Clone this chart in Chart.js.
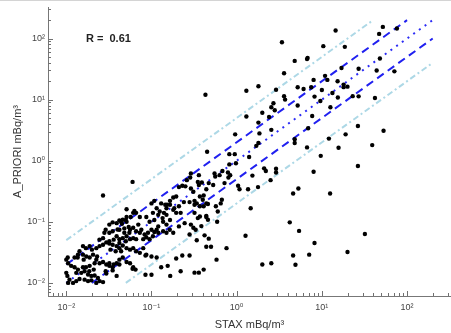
<!DOCTYPE html>
<html>
<head>
<meta charset="utf-8">
<script src="https://cdn.jsdelivr.net/npm/chart.js@4.4.0/dist/chart.umd.min.js"></script>
<style>
  html, body { margin: 0; padding: 0; background: #fff; overflow: hidden; }
</style>
</head>
<body>
<canvas id="chartStax" width="451" height="333"></canvas>
<script>
// STAX measurement (x) against a-priori estimate (y), both mBq/m3
const staxValues = [
  52, 47, 76, 14.5, 3.4, 10.4, 18.6, 4.8, 6.8, 6.7,
  3.6, 27, 48, 44, 71, 1.8, 2.9, 5.2, 6.1, 7.5,
  8.0, 10.9, 11.6, 15.3, 10, 18, 18, 20, 13.3, 15.4,
  27, 23, 3.6, 3.7, 2.7, 2.55, 5.2, 9.6, 12.6, 2.0,
  2.8, 1.8, 2.4, 7.7, 42, 1.85, 2.55, 6.9, 26.5, 1.7,
  1.8, 4.8, 4.8, 6.7, 12.1, 19, 53, 39, 15.7, 0.43,
  1.3, 1.3, 0.96, 1.4, 0.82, 0.95, 0.45, 17, 8.2,
  9.7, 26.5, 8.0, 2.1, 2.2, 2.9, 2.9, 2.5, 0.82, 0.98,
  0.79, 0.84, 0.8, 0.72, 1.04, 1.08, 1.36, 1.78, 1.46, 5.3,
  4.6, 12.5, 1.53, 4.2, 5.4, 32, 8.2, 20, 4.6, 7.1,
  2.0, 2.55, 4.9, 1.27, 0.76,
  0.29, 0.285, 0.36, 0.55, 0.56, 0.68, 0.63, 0.26, 0.35, 0.39,
  0.47, 0.53, 0.36, 0.25, 0.21, 0.23, 0.44, 0.29, 0.31, 0.41,
  0.37, 0.32, 0.34, 0.4, 0.44, 0.24, 0.28, 0.195, 0.18, 0.165,
  0.145, 0.13, 0.108, 0.1, 0.15, 0.165, 0.185, 0.21, 0.115, 0.125,
  0.14, 0.15, 0.18, 0.195, 0.22, 0.32, 0.37, 0.41, 0.46, 0.57,
  0.6, 0.65, 0.67, 0.32, 0.37, 0.44, 0.59, 0.33, 0.28, 0.42,
  0.47, 0.34, 0.44, 0.5, 0.58, 0.41, 0.32, 0.36, 0.28, 0.23,
  0.195, 0.22, 0.166, 0.155, 0.13, 0.115, 0.085, 0.085, 0.1, 0.065, 0.06,
  0.087, 0.095, 0.108, 0.137, 0.12, 0.137, 0.15, 0.164, 0.18, 0.21,
  0.245, 0.29, 0.31, 0.35, 0.385, 0.44, 0.46, 0.115, 0.104, 0.1,
  0.091, 0.083, 0.076, 0.073, 0.066, 0.061, 0.056, 0.048, 0.042, 0.095,
  0.087, 0.08, 0.066, 0.061, 0.056, 0.051, 0.046, 0.042, 0.039, 0.035,
  0.032, 0.029, 0.028,
  0.051, 0.061, 0.063, 0.066, 0.073, 0.057, 0.051, 0.046, 0.042, 0.039,
  0.035, 0.032, 0.06, 0.027, 0.104, 0.12,
  0.017, 0.0188, 0.02, 0.0225, 0.0246, 0.027, 0.0295, 0.032, 0.035, 0.039,
  0.042, 0.046, 0.051, 0.056, 0.061, 0.066, 0.073, 0.08, 0.087, 0.1,
  0.0143, 0.0157, 0.0172, 0.0188, 0.0206, 0.0225, 0.0246, 0.027, 0.0295, 0.032,
  0.035, 0.039, 0.042, 0.046, 0.051, 0.056, 0.061, 0.01, 0.0105, 0.0114,
  0.0125, 0.0137, 0.015, 0.0164, 0.018, 0.0197, 0.0215, 0.0235, 0.0246, 0.027,
  0.01, 0.0103, 0.0109, 0.012, 0.0131, 0.0143, 0.0164, 0.018, 0.0197, 0.0225,
  0.0295, 0.035, 0.039, 0.0105, 0.0131, 0.0157, 0.0188, 0.0215, 0.0157, 0.0137, 0.0125,
  0.05, 0.045, 0.054, 0.04, 0.048, 0.055, 0.0245, 0.027, 0.032, 0.036,
  0.042, 0.05, 0.033, 0.038, 0.044, 0.0136, 0.016, 0.023, 0.032, 0.036,
  0.042, 0.017, 0.0186, 0.021, 0.029, 0.0104, 0.152, 0.07, 0.135, 0.165,
  0.12, 0.15, 0.108, 0.044, 0.051
];
const aprioriValues = [
  155, 119, 146, 135, 87, 75, 73, 43, 48, 46,
  27, 32, 47, 30, 29, 16.5, 14.5, 15.9, 14.9, 15.9,
  21, 24.5, 21, 20, 14.4, 17.6, 16, 16.3, 12.8, 10.8,
  11.3, 11.4, 11.4, 10, 8.7, 7.5, 8.0, 9.5, 7.5, 6.1,
  6.7, 4.2, 5.2, 5.4, 10.6, 2.8, 3.2, 3.4, 3.7, 1.75,
  1.95, 2.25, 1.95, 1.65, 2.3, 2.7, 3.1, 1.8, 1.63, 12,
  14, 5.3, 2.7, 1.15, 1.28, 1.28, 1.4, 33, 11.2,
  1.2, 0.82, 0.66, 0.75, 0.68, 0.74, 0.64, 0.48, 0.87, 0.91,
  0.64, 0.58, 0.53, 0.43, 0.39, 0.34, 0.34, 0.37, 0.167, 0.35,
  0.29, 0.29, 0.57, 0.098, 0.071, 0.063, 0.045, 0.032, 0.028, 0.029,
  0.02, 0.021, 0.0198, 0.059, 0.037,
  0.62, 0.53, 0.58, 0.62, 0.55, 0.68, 0.58, 0.48, 0.45, 0.44,
  0.43, 0.40, 0.40, 0.38, 0.37, 0.39, 0.34, 0.35, 0.31, 0.27,
  0.26, 0.22, 0.2, 0.23, 0.2, 0.21, 0.21, 0.26, 0.25, 0.22,
  0.19, 0.2, 0.22, 0.2, 0.167, 0.19, 0.167, 0.18, 0.167, 0.147,
  0.14, 0.13, 0.157, 0.14, 0.14, 0.19, 0.18, 0.18, 0.195, 0.18,
  0.147, 0.2, 0.23, 0.14, 0.122, 0.125, 0.1, 0.074, 0.062, 0.06,
  0.053, 0.05, 0.039, 0.039, 0.024, 0.0165, 0.0147, 0.0147, 0.028, 0.028,
  0.025, 0.0155, 0.013, 0.019, 0.018, 0.026, 0.028, 0.0136, 0.0136, 0.0165, 0.017,
  0.12, 0.1, 0.107, 0.1, 0.066, 0.07, 0.066, 0.074, 0.066, 0.084,
  0.095, 0.09, 0.08, 0.115, 0.085, 0.12, 0.108, 0.074, 0.058, 0.074,
  0.066, 0.062, 0.074, 0.066, 0.07, 0.08, 0.074, 0.078, 0.074, 0.052,
  0.056, 0.052, 0.052, 0.054, 0.052, 0.058, 0.054, 0.052, 0.058, 0.07,
  0.066, 0.074, 0.066,
  0.16, 0.14, 0.15, 0.14, 0.12, 0.12, 0.12, 0.108, 0.105, 0.095,
  0.098, 0.09, 0.45, 0.27, 0.14, 0.13,
  0.037, 0.04, 0.035, 0.037, 0.04, 0.042, 0.046, 0.044, 0.042, 0.04,
  0.037, 0.041, 0.037, 0.035, 0.037, 0.033, 0.031, 0.037, 0.029, 0.027,
  0.033, 0.029, 0.027, 0.026, 0.029, 0.024, 0.021, 0.022, 0.02, 0.019,
  0.018, 0.021, 0.024, 0.026, 0.022, 0.021, 0.018, 0.024, 0.021, 0.019,
  0.018, 0.0165, 0.0146, 0.0155, 0.0137, 0.013, 0.0132, 0.012, 0.0107, 0.0103,
  0.0146, 0.013, 0.0113, 0.01, 0.0107, 0.0116, 0.0113, 0.0107, 0.011, 0.01,
  0.0142, 0.016, 0.013, 0.01, 0.0146, 0.018, 0.019, 0.021, 0.04, 0.029, 0.026,
  0.107, 0.093, 0.082, 0.075, 0.066, 0.066, 0.051, 0.054, 0.048, 0.051,
  0.045, 0.048, 0.035, 0.033, 0.033, 0.026, 0.024, 0.027, 0.021, 0.02,
  0.02, 0.018, 0.0155, 0.0165, 0.0155, 0.026, 0.19, 0.09, 0.115, 0.107,
  0.084, 0.09, 0.068, 0.1, 0.1
];

// reference lines (start / end in data units)
const lineOneX = [0.01, 200],   lineOneY = [0.01, 200];
const lineTwoUpX = [0.01, 100], lineTwoUpY = [0.02, 200];
const lineTwoLowX = [0.02, 200], lineTwoLowY = [0.01, 100];
const lineFiveUpX = [0.01, 40], lineFiveUpY = [0.05, 200];
const lineFiveLowX = [0.05, 200], lineFiveLowY = [0.01, 40];

const decadeValues = [0.01, 0.1, 1, 10, 100];
const decadeLabels = ['10\u207B\u00B2', '10\u207B\u00B9', '10\u2070', '10\u00B9', '10\u00B2'];
const rLabel = 'R =  0.61';

const fontFamily = '"Liberation Sans", Arial, "DejaVu Sans", sans-serif';
const axisMin = 0.0061, axisMax = 328;

function toPoints(xs, ys) {
    return xs.map((x, i) => ({ x: x, y: ys[i] }));
}

function decadeLabel(value) {
    const i = decadeValues.findIndex(d => Math.abs(Math.log10(value) - Math.log10(d)) < 1e-6);
    return i >= 0 ? decadeLabels[i] : '';
}

function refLine(xs, ys, color, dash) {
    return {
        data: toPoints(xs, ys),
        showLine: true,
        borderColor: color,
        borderWidth: 2,
        borderDash: dash,
        pointRadius: 0,
        pointHoverRadius: 0,
        fill: false
    };
}

// tick marks drawn inward + the correlation text
const innerTicks = {
    id: 'innerTicks',
    afterDraw(chart) {
        const ctx = chart.ctx;
        const xs = chart.scales.x;
        const ys = chart.scales.y;
        const area = chart.chartArea;
        ctx.save();
        ctx.strokeStyle = '#707070';
        ctx.lineWidth = 1;
        ctx.beginPath();
        for (let d = -3; d <= 3; d++) {
            for (let m = 1; m <= 9; m++) {
                const v = m * Math.pow(10, d);
                const len = m === 1 ? 5 : 3;
                if (v >= xs.min && v <= xs.max) {
                    const px = Math.round(xs.getPixelForValue(v)) + 0.5;
                    ctx.moveTo(px, area.bottom);
                    ctx.lineTo(px, area.bottom - len);
                }
                if (v >= ys.min && v <= ys.max) {
                    const py = Math.round(ys.getPixelForValue(v)) + 0.5;
                    ctx.moveTo(area.left, py);
                    ctx.lineTo(area.left + len, py);
                }
            }
        }
        ctx.stroke();

        ctx.fillStyle = '#d4d4d4';
        ctx.fillRect(0, 0, chart.width, 1);

        ctx.fillStyle = '#222';
        ctx.font = 'bold 11px ' + fontFamily;
        ctx.textAlign = 'left';
        ctx.textBaseline = 'middle';
        ctx.fillText(rLabel, xs.getPixelForValue(0.017), ys.getPixelForValue(100));
        ctx.restore();
    }
};

const ctx = document.getElementById('chartStax').getContext('2d');

const scatterSet = {
    data: toPoints(staxValues, aprioriValues),
    pointRadius: 2.2,
    pointHoverRadius: 2.2,
    pointBackgroundColor: '#000',
    pointBorderWidth: 0,
    showLine: false
};

const axisBase = {
    type: 'logarithmic',
    min: axisMin,
    max: axisMax,
    grid: { display: false, drawTicks: false },
    border: { display: true, color: '#777', width: 1 },
    ticks: {
        autoSkip: false,
        maxRotation: 0,
        color: '#444',
        font: { size: 9, family: fontFamily },
        callback: decadeLabel
    }
};

new Chart(ctx, {
    type: 'scatter',
    data: {
        datasets: [
            scatterSet,
            refLine(lineOneX, lineOneY, '#2b2bf5', [2, 5]),
            refLine(lineTwoUpX, lineTwoUpY, '#2020f0', [8, 5]),
            refLine(lineTwoLowX, lineTwoLowY, '#2020f0', [8, 5]),
            refLine(lineFiveUpX, lineFiveUpY, '#add8e6', [6, 3, 2, 3]),
            refLine(lineFiveLowX, lineFiveLowY, '#add8e6', [6, 3, 2, 3])
        ]
    },
    options: {
        responsive: false,
        animation: false,
        devicePixelRatio: 1,
        layout: { autoPadding: false, padding: { top: 7, right: 0, bottom: 0, left: 0 } },
        plugins: {
            legend: { display: false },
            tooltip: { enabled: false }
        },
        scales: {
            x: Object.assign({}, axisBase, {
                ticks: Object.assign({}, axisBase.ticks, { padding: 6 }),
                title: {
                    display: true,
                    text: 'STAX mBq/m\u00B3',
                    color: '#333',
                    font: { size: 11, family: fontFamily },
                    padding: { top: 0, bottom: 1 }
                },
                afterFit(scale) {
                    scale.height = 37;
                    scale.paddingLeft = 0;
                    scale.paddingRight = 0;
                }
            }),
            y: Object.assign({}, axisBase, {
                ticks: Object.assign({}, axisBase.ticks, { padding: 3 }),
                title: {
                    display: true,
                    text: 'A_PRIORI mBq/m\u00B3',
                    color: '#333',
                    font: { size: 11, family: fontFamily },
                    padding: { top: 11, bottom: 0 }
                },
                afterFit(scale) {
                    scale.width = 48;
                    scale.paddingTop = 0;
                    scale.paddingBottom = 0;
                }
            })
        }
    },
    plugins: [innerTicks]
});
</script>
</body>
</html>
